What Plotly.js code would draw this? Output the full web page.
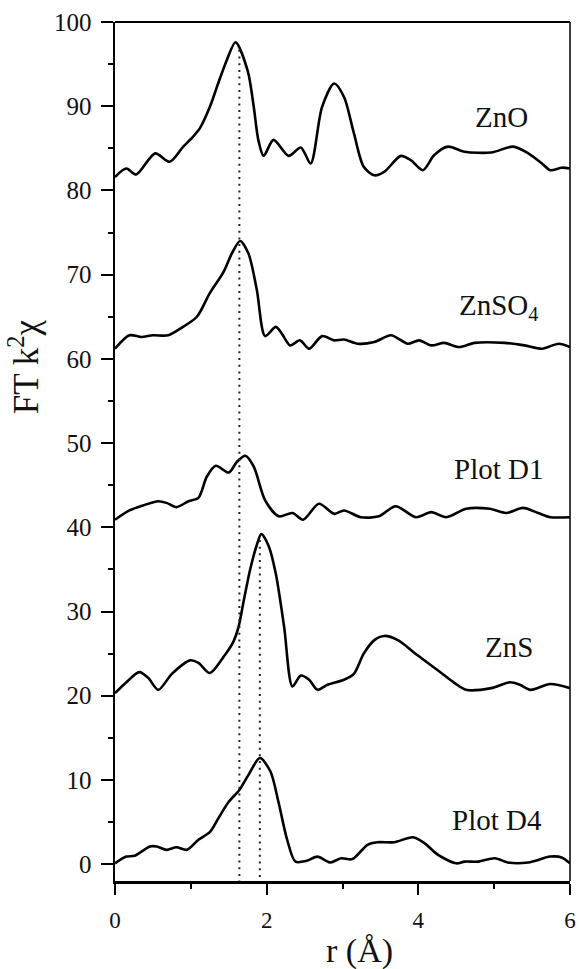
<!DOCTYPE html>
<html>
<head>
<meta charset="utf-8">
<script src="https://cdn.plot.ly/plotly-3.0.1.min.js"></script>
<style>html,body{margin:0;padding:0;background:#fff;}#chart{width:579px;height:969px;}</style>
</head>
<body>
<div id="chart"></div>
<script>
// ---- data ----
const znoR = [0,0.15,0.28,0.53,0.72,0.90,1.03,1.12,1.25,1.36,1.475,1.59,1.75,1.83,1.89,1.96,2.09,2.29,2.45,2.58,2.73,2.89,3.02,3.15,3.28,3.42,3.55,3.77,3.90,4.06,4.21,4.39,4.61,4.96,5.25,5.45,5.63,5.74,5.89,6.0];
const znoY = [81.6,82.6,81.9,84.4,83.4,85.2,86.4,87.4,89.9,92.7,95.5,97.6,94.2,89.9,86.0,84.1,86.0,84.1,85.1,83.2,89.9,92.7,91.1,86.8,82.8,81.8,82.2,84.1,83.6,82.4,84.2,85.2,84.6,84.5,85.2,84.4,83.2,82.4,82.7,82.6];

const znso4R = [0,0.19,0.35,0.50,0.70,0.86,1.08,1.25,1.43,1.54,1.65,1.76,1.87,1.98,2.12,2.20,2.31,2.44,2.56,2.73,2.89,3.02,3.20,3.42,3.64,3.86,4.01,4.17,4.34,4.54,4.74,5.14,5.40,5.63,5.85,6.0];
const znso4Y = [61.2,62.8,62.6,62.8,62.8,63.6,65.0,67.8,70.3,72.5,74.0,72.5,68.2,62.7,63.8,63.0,61.6,62.2,61.2,62.7,62.2,62.3,61.8,62.0,62.8,61.8,62.2,61.6,61.9,61.4,61.9,61.9,61.6,61.2,61.8,61.4];

const d1R = [0,0.19,0.37,0.57,0.68,0.81,0.97,1.10,1.21,1.33,1.50,1.61,1.72,1.83,1.98,2.16,2.34,2.48,2.69,2.89,3.02,3.24,3.48,3.70,3.97,4.17,4.37,4.63,4.94,5.16,5.38,5.58,5.74,6.0];
const d1Y = [40.9,42.0,42.6,43.1,42.9,42.4,43.1,43.5,46.0,47.3,46.5,47.8,48.5,47.2,43.2,41.3,41.7,40.9,42.8,41.6,42.0,41.2,41.3,42.5,41.2,41.8,41.2,42.2,42.2,41.7,42.3,41.7,41.2,41.2];

const znsR = [0,0.15,0.32,0.44,0.57,0.75,0.99,1.10,1.25,1.43,1.56,1.63,1.70,1.78,1.87,1.93,2.03,2.12,2.23,2.34,2.45,2.56,2.67,2.80,3.02,3.15,3.28,3.42,3.55,3.73,3.99,4.26,4.48,4.63,4.96,5.21,5.34,5.48,5.74,6.0];
const znsY = [20.3,21.6,22.8,22.1,20.7,22.6,24.2,23.9,22.7,24.6,26.4,28.2,31.4,34.9,37.9,39.2,37.7,34.5,28.2,21.1,22.4,21.9,20.7,21.3,21.9,22.6,25.0,26.6,27.1,26.6,24.8,23.0,21.5,20.7,20.9,21.6,21.3,20.7,21.4,20.9];

const d4R = [0,0.15,0.26,0.46,0.55,0.68,0.81,0.95,1.10,1.25,1.36,1.50,1.64,1.76,1.91,2.05,2.16,2.27,2.38,2.53,2.67,2.84,2.98,3.13,3.33,3.46,3.68,3.93,4.08,4.26,4.50,4.61,4.79,5.01,5.18,5.45,5.74,5.89,6.0];
const d4Y = [0.1,0.9,1.0,2.1,2.1,1.7,2.0,1.7,2.9,3.8,5.4,7.4,8.8,10.6,12.6,11.0,7.2,2.9,0.3,0.4,0.9,0.2,0.7,0.6,2.3,2.6,2.6,3.2,2.5,1.1,0.1,0.3,0.3,0.7,0.2,0.2,0.9,0.8,0.1];

const seriesNames = ["ZnO", "ZnSO<sub>4</sub>", "Plot D1", "ZnS", "Plot D4"];
const labelR = [5.10, 5.06, 5.06, 5.19, 5.04];
const labelY = [88.7, 66.2, 46.9, 25.8, 5.3];

const refLineR = [1.64, 1.91];
const refLineTop = [96.7, 38.5];

const xTicks = [0, 2, 4, 6];
const yTicks = [0, 10, 20, 30, 40, 50, 60, 70, 80, 90, 100];

// ---- chart ----
const serif = "Liberation Serif, Times New Roman, serif";
const curves = [[znoR, znoY], [znso4R, znso4Y], [d1R, d1Y], [znsR, znsY], [d4R, d4Y]];
const traces = curves.map((c, i) => ({
  x: c[0], y: c[1], type: "scatter", mode: "lines",
  line: {color: "#000", width: 2.6, shape: "spline", smoothing: 0.8},
  name: seriesNames[i], hoverinfo: "skip"
}));

const shapes = refLineR.map((r, i) => ({
  type: "line", xref: "x", yref: "y", x0: r, x1: r, y0: refLineTop[i], y1: -2,
  line: {color: "#222", width: 2, dash: "2px,4.7px"}
}));
shapes.push({type: "line", xref: "paper", yref: "paper", x0: 0, x1: 1, y0: 1, y1: 1, line: {color: "#000", width: 2}});
shapes.push({type: "line", xref: "paper", yref: "paper", x0: 1, x1: 1, y0: 0, y1: 1, line: {color: "#000", width: 1.5}});

const annotations = seriesNames.map((n, i) => ({
  x: labelR[i], y: labelY[i], xref: "x", yref: "y", text: n, showarrow: false,
  xanchor: "center", yanchor: "middle", font: {family: serif, size: 29, color: "#111"}
}));
annotations.push({
  xref: "paper", yref: "paper", x: -0.2, y: 0.598, text: "FT k<sup>2</sup>χ", textangle: -90,
  showarrow: false, xanchor: "center", yanchor: "middle", font: {family: serif, size: 35, color: "#111"}
});
annotations.push({
  xref: "paper", yref: "paper", x: 0.537, y: -0.081, text: "r (Å)",
  showarrow: false, xanchor: "center", yanchor: "middle", font: {family: serif, size: 34, color: "#111"}
});

const layout = {
  width: 579, height: 969,
  margin: {l: 115, r: 9, t: 22, b: 88},
  paper_bgcolor: "#fff", plot_bgcolor: "#fff",
  showlegend: false,
  xaxis: {
    range: [0, 6], tickvals: xTicks, ticktext: xTicks.map(String),
    showgrid: false, zeroline: false, showline: true, linecolor: "#000", linewidth: 2.5,
    ticks: "outside", ticklen: 11, tickwidth: 2, tickcolor: "#000",
    minor: {dtick: 1, ticks: "outside", ticklen: 5, tickwidth: 2, tickcolor: "#000", showgrid: false},
    tickfont: {family: serif, size: 23, color: "#111"}, ticklabelstandoff: 6
  },
  yaxis: {
    range: [-2, 100], tickvals: yTicks, ticktext: yTicks.map(String),
    showgrid: false, zeroline: false, showline: true, linecolor: "#000", linewidth: 2.5,
    ticks: "outside", ticklen: 12, tickwidth: 2, tickcolor: "#000",
    minor: {dtick: 5, ticks: "outside", ticklen: 5, tickwidth: 2, tickcolor: "#000", showgrid: false},
    tickfont: {family: serif, size: 25, color: "#111"}, ticklabelstandoff: 4
  },
  shapes: shapes,
  annotations: annotations
};

Plotly.newPlot("chart", traces, layout, {staticPlot: true, displayModeBar: false});
</script>
</body>
</html>
